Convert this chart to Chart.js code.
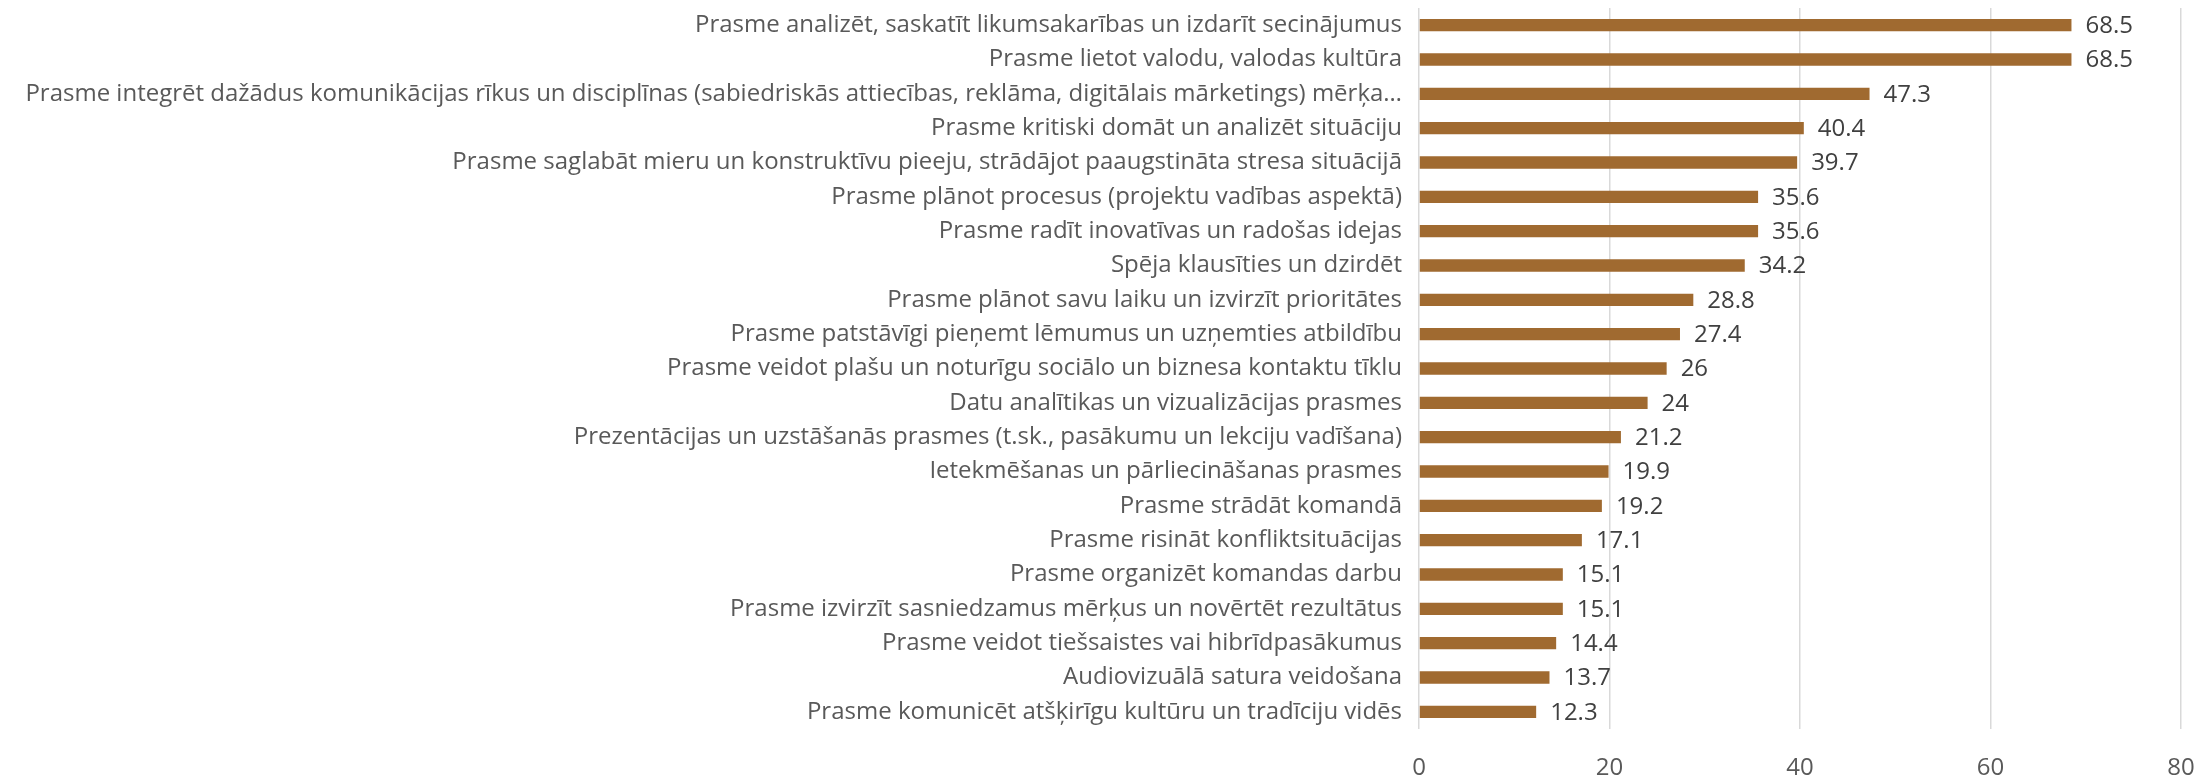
<!DOCTYPE html>
<html>
<head>
<meta charset="utf-8">
<script src="https://cdn.jsdelivr.net/npm/chart.js@4.4.1/dist/chart.umd.min.js"></script>
<style>
    html, body { margin: 0; padding: 0; background: #ffffff; }
    #wrap { width: 2199px; height: 780px; }
</style>
</head>
<body>
<div id="wrap"><canvas id="skills-chart" width="2199" height="780"></canvas></div>
<script>
// DATA

const skillLabels = [
    "Prasme analizēt, saskatīt likumsakarības un izdarīt secinājumus",
    "Prasme lietot valodu, valodas kultūra",
    "Prasme integrēt dažādus komunikācijas rīkus un disciplīnas (sabiedriskās attiecības, reklāma, digitālais mārketings) mērķa…",
    "Prasme kritiski domāt un analizēt situāciju",
    "Prasme saglabāt mieru un konstruktīvu pieeju, strādājot paaugstināta stresa situācijā",
    "Prasme plānot procesus (projektu vadības aspektā)",
    "Prasme radīt inovatīvas un radošas idejas",
    "Spēja klausīties un dzirdēt",
    "Prasme plānot savu laiku un izvirzīt prioritātes",
    "Prasme patstāvīgi pieņemt lēmumus un uzņemties atbildību",
    "Prasme veidot plašu un noturīgu sociālo un biznesa kontaktu tīklu",
    "Datu analītikas un vizualizācijas prasmes",
    "Prezentācijas un uzstāšanās prasmes (t.sk., pasākumu un lekciju vadīšana)",
    "Ietekmēšanas un pārliecināšanas prasmes",
    "Prasme strādāt komandā",
    "Prasme risināt konfliktsituācijas",
    "Prasme organizēt komandas darbu",
    "Prasme izvirzīt sasniedzamus mērķus un novērtēt rezultātus",
    "Prasme veidot tiešsaistes vai hibrīdpasākumus",
    "Audiovizuālā satura veidošana",
    "Prasme komunicēt atšķirīgu kultūru un tradīciju vidēs"
];

const skillValues = [68.5, 68.5, 47.3, 40.4, 39.7, 35.6, 35.6, 34.2, 28.8, 27.4,
    26, 24, 21.2, 19.9, 19.2, 17.1, 15.1, 15.1, 14.4, 13.7, 12.3];

const axisMin = 0;
const axisMax = 80;
const axisStep = 20;

// VALUE LABELS

const valueLabels = {
    id: 'valueLabels',
    afterDatasetsDraw(chart) {
        const ctx = chart.ctx;
        const meta = chart.getDatasetMeta(0);
        ctx.save();
        ctx.font = '24px "Open Sans"';
        ctx.fillStyle = '#404040';
        ctx.textAlign = 'left';
        ctx.textBaseline = 'middle';
        meta.data.forEach((bar, i) => {
            ctx.fillText(String(skillValues[i]), bar.x + 14, bar.y + 1);
        });
        ctx.restore();
    }
};

// BAR CHART

let skillsData = {
    labels: skillLabels,
    datasets: [{
        data: skillValues,
        backgroundColor: 'rgb(160, 106, 48)',
        borderWidth: 0,
        barPercentage: 0.36,
        categoryPercentage: 1
    }]
};

let skillsOptions = {
    indexAxis: 'y',
    responsive: false,
    animation: false,
    layout: {
        padding: { top: 8, right: 18, bottom: 0, left: 0 }
    },
    scales: {
        x: {
            min: axisMin,
            max: axisMax,
            border: { display: false },
            grid: {
                color: '#d9d9d9',
                lineWidth: 1.5,
                drawTicks: false
            },
            ticks: {
                stepSize: axisStep,
                padding: 25,
                color: '#595959',
                font: { family: 'Open Sans', size: 24 }
            },
            afterFit(scale) {
                scale.height = 51;
                scale.paddingLeft = 0;
                scale.paddingRight = 0;
            }
        },
        y: {
            border: { display: false },
            grid: { display: false, drawTicks: false },
            ticks: {
                autoSkip: false,
                padding: 17,
                color: '#595959',
                font: { family: 'Open Sans', size: 24 }
            },
            afterFit(scale) {
                scale.width = 1419;
                scale.paddingTop = 0;
                scale.paddingBottom = 0;
            }
        }
    },
    plugins: {
        legend: { display: false },
        tooltip: { enabled: false }
    }
};

let skillsChart = new Chart(document.getElementById('skills-chart'), {
    type: 'bar',
    data: skillsData,
    options: skillsOptions,
    plugins: [valueLabels]
});
</script>
</body>
</html>
